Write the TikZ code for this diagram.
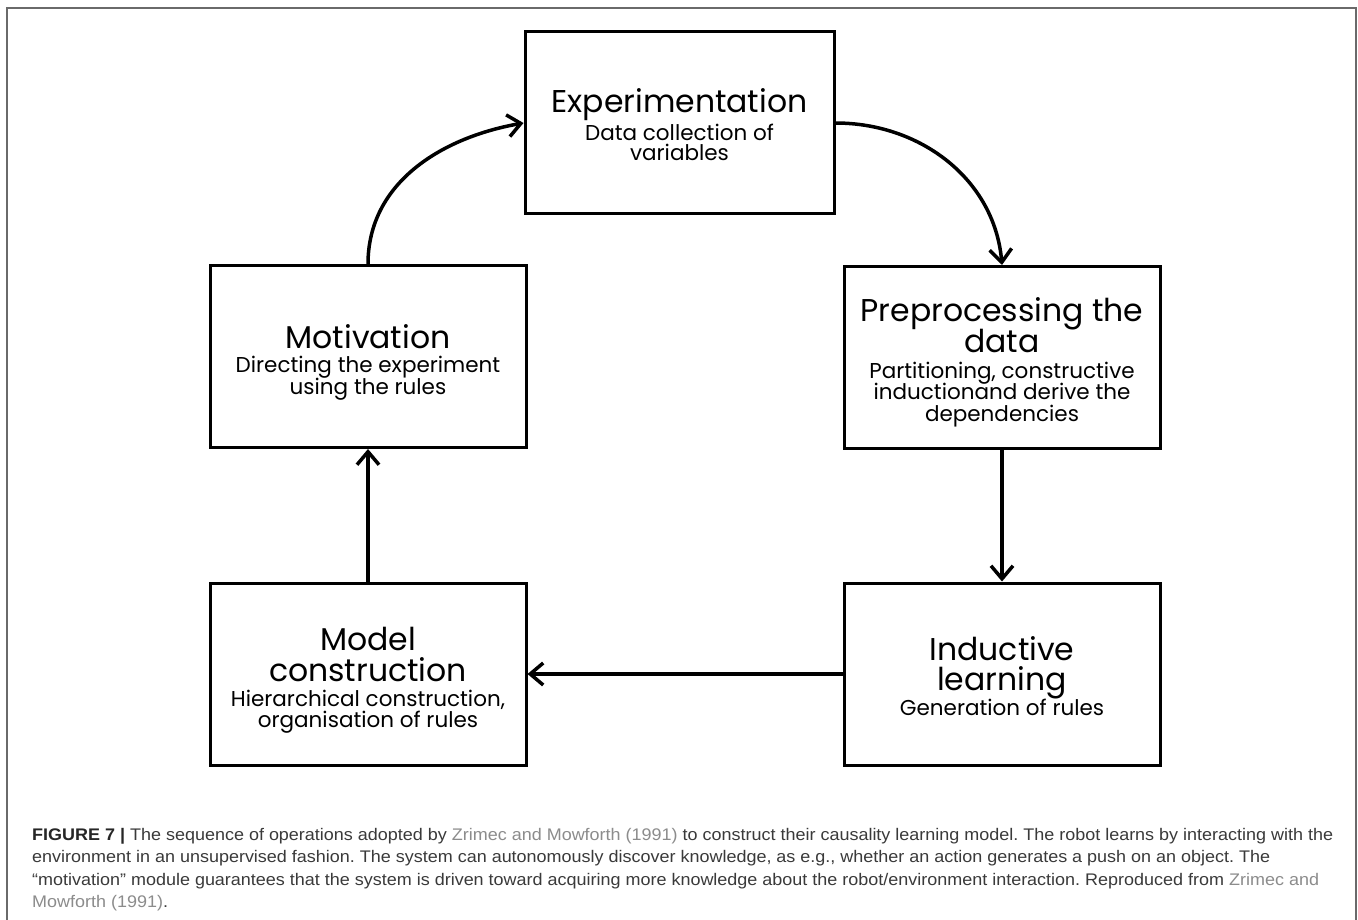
\documentclass[tikz,border=0pt]{standalone}
\usepackage{fontspec}
\usetikzlibrary{arrows.meta}
\setmainfont{Liberation Sans}
\newfontfamily\handfont{Poppins}
\newfontfamily\capfont[FakeStretch=1.07]{Liberation Sans}
\definecolor{captext}{HTML}{3A3A3A}
\definecolor{citegray}{HTML}{8C8C8C}
\definecolor{framegray}{HTML}{6A6A6A}

\begin{document}
\frenchspacing
\begin{tikzpicture}[x=1pt,y=-1pt,
  stagebox/.style={draw=black, line width=3pt, fill=white, inner sep=0pt,
    minimum width=#1, minimum height=182pt},
  titleline/.style={anchor=base, inner sep=0pt,
    font=\handfont\fontsize{31.5}{34}\selectfont},
  subline/.style={anchor=base, inner sep=0pt,
    font=\handfont\fontsize{21.5}{24}\selectfont},
  flow/.style={line width=3.5pt, -{Straight Barb[length=13pt,width=22pt]}},
  capline/.style={anchor=base west, inner sep=0pt, text=captext,
    font=\capfont\fontsize{16.8}{22}\selectfont},
  cite/.style={text=citegray}]
\useasboundingbox (0,0) rectangle (1358,920);
\fill[white] (0,0) rectangle (1358,920);

% open frame around figure and caption
\draw[framegray, line width=2pt] (7,920) -- (7,8) -- (1356,8) -- (1356,920);

% stages of the learning cycle
\node[stagebox=309pt] (exp) at (679.5,123) {};
\node[stagebox=316pt] (pre) at (1002,357.5) {};
\node[stagebox=316pt] (ind) at (1002,674) {};
\node[stagebox=316pt] (mod) at (368,674) {};
\node[stagebox=316pt] (mot) at (368,356.5) {};

% stage texts
\node[titleline] (exp1) at (679.5,113) {Experimentation};
\node[subline]   (exp2) at (679.5,141) {Data collection of};
\node[subline]   (exp3) at (679.5,161) {variables};

\node[titleline] (pre1) at (1002,321) {Preprocessing the};
\node[titleline] (pre2) at (1002,352) {data};
\node[subline]   (pre3) at (1002,378) {Partitioning, constructive};
\node[subline]   (pre4) at (1002,399) {inductionand derive the};
\node[subline]   (pre5) at (1002,421) {dependencies};

\node[titleline] (ind1) at (1002,660) {Inductive};
\node[titleline] (ind2) at (1002,690) {learning};
\node[subline]   (ind3) at (1002,715) {Generation of rules};

\node[titleline] (mod1) at (368,650) {Model};
\node[titleline] (mod2) at (368,681) {construction};
\node[subline]   (mod3) at (368,706) {Hierarchical construction,};
\node[subline]   (mod4) at (368,727) {organisation of rules};

\node[titleline] (mot1) at (368,348) {Motivation};
\node[subline]   (mot2) at (368,372) {Directing the experiment};
\node[subline]   (mot3) at (368,394) {using the rules};

% connectors
\draw[flow] (exp.east) to[out=0,in=95] (pre.north);
\draw[flow] (pre.south) -- (ind.north);
\draw[flow] (ind.west) -- (mod.east);
\draw[flow] (mod.north) -- (mot.south);
\draw[flow] (mot.north) to[out=90,in=190] (exp.west);

% caption
\node[capline] (cap1) at (32,840) {\textbf{\color{black!85}FIGURE 7 |} The sequence of operations adopted by {\color{citegray}Zrimec and Mowforth (1991)} to construct their causality learning model. The robot learns by interacting with the};
\node[capline] (cap2) at (32,862.6) {environment in an unsupervised fashion. The system can autonomously discover knowledge, as e.g., whether an action generates a push on an object. The};
\node[capline] (cap3) at (32,885.2) {“motivation” module guarantees that the system is driven toward acquiring more knowledge about the robot/environment interaction. Reproduced from {\color{citegray}Zrimec and}};
\node[capline] (cap4) at (32,907.8) {{\color{citegray}Mowforth (1991)}.};
\end{tikzpicture}
\end{document}
